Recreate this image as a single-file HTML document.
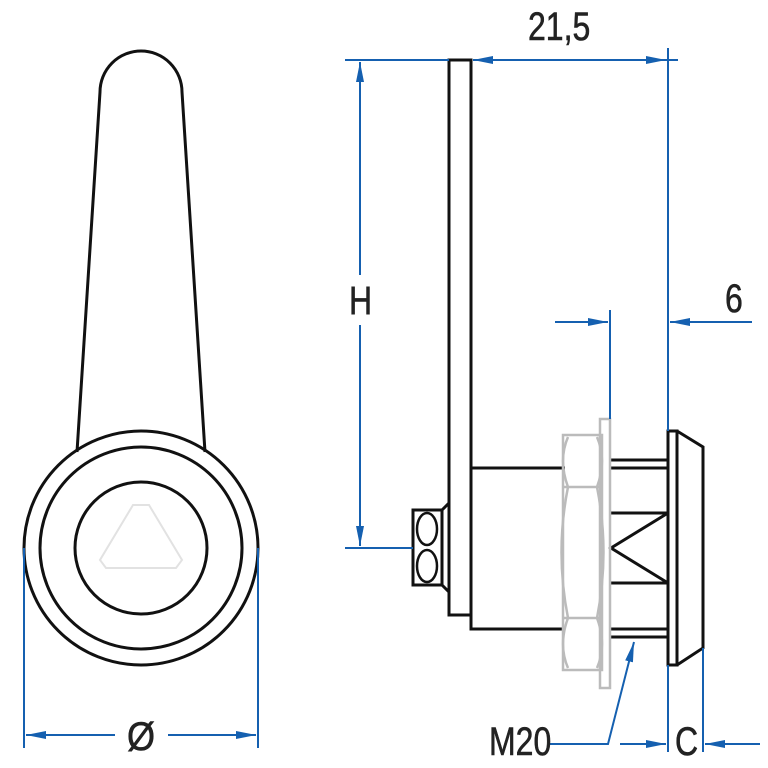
<!DOCTYPE html>
<html><head><meta charset="utf-8"><style>html,body{margin:0;padding:0;background:#fff}svg{display:block}</style></head>
<body>
<svg width="768" height="768" viewBox="0 0 768 768" xmlns="http://www.w3.org/2000/svg">
<defs>
<marker id="a" viewBox="0 0 20 10" refX="20" refY="5" markerWidth="20" markerHeight="10" markerUnits="userSpaceOnUse" orient="auto-start-reverse"><path d="M0,1 L20,5 L0,9 Z" fill="#1560b0"/></marker>
</defs>
<g fill="none" stroke="#111" stroke-width="3">
<path d="M77,452 L100,92 A41,41 0 0 1 182,92 L205,452"/>
<circle cx="141" cy="548" r="117"/>
<circle cx="141" cy="548" r="101"/>
<circle cx="141" cy="548" r="66"/>
</g>
<path d="M133,505 L149,505 L182,560 L176,568 L106,568 L100,560 Z" fill="none" stroke="#e2e2e2" stroke-width="2"/>
<g fill="none" stroke="#111" stroke-width="3">
<rect x="449" y="60" width="22" height="555"/>
<path d="M471,468 L565,468 M471,615 L471,629 L565,629"/>
<rect x="413" y="510" width="29" height="75"/>
<ellipse cx="427" cy="529" rx="10" ry="16" stroke-width="2.5"/>
<ellipse cx="427" cy="566" rx="10" ry="16" stroke-width="2.5"/>
<path d="M442,510 L449,503 M442,585 L449,592"/>
<path d="M610,460 L668,460 M610,468 L668,468 M610,629 L668,629 M610,637 L668,637 M610,513 L668,513 M610,583 L668,583 M668,513 L611,548 L668,583"/>
<rect x="668" y="431" width="9" height="234"/>
<path d="M677,431 L703,447 L703,648 L677,665"/>
</g>
<g fill="none" stroke="#bbb" stroke-width="2.5">
<rect x="563" y="435" width="39" height="235"/>
<rect x="600" y="419" width="10" height="269"/>
<path d="M563,487 L602,487 M563,618 L602,618 M568,437 Q558,460 568,487 M597,437 Q607,460 597,487 M568,618 Q558,645 568,668 M597,618 Q607,645 597,668 M568,487 Q555,552 568,618 M597,487 Q610,552 597,618"/>
</g>
<g fill="none" stroke="#1560b0" stroke-width="2">
<path d="M345,60 L449,60"/>
<path d="M345,548 L413,548"/>
<path d="M360,275 L360,62" marker-end="url(#a)"/>
<path d="M360,325 L360,546" marker-end="url(#a)"/>
<path d="M473,60 L666,60" marker-start="url(#a)" marker-end="url(#a)"/>
<path d="M666,60 L678,60"/>
<path d="M668,48 L668,431 M668,665 L668,752"/>
<path d="M610,310 L610,419"/>
<path d="M555,322 L608,322" marker-end="url(#a)"/>
<path d="M752,322 L670,322" marker-end="url(#a)"/>
<path d="M703,648 L703,752"/>
<path d="M620,744 L666,744" marker-end="url(#a)"/>
<path d="M760,744 L705,744" marker-end="url(#a)"/>
<path d="M548,744 L608,744 L634,642" marker-end="url(#a)"/>
<path d="M24,548 L24,748 M258,548 L258,748"/>
<path d="M26,735 L115,735" marker-start="url(#a)"/>
<path d="M168,735 L256,735" marker-end="url(#a)"/>
</g>
<g font-family="Liberation Sans, sans-serif" fill="#222" font-size="40" stroke="#222" stroke-width="0.6">
<text x="0" y="0" transform="translate(528,40) scale(0.8,1)">21,5</text>
<text x="0" y="0" transform="translate(349,314) scale(0.8,1)">H</text>
<text x="0" y="0" transform="translate(725,312) scale(0.8,1)">6</text>
<text x="0" y="0" transform="translate(489,755) scale(0.8,1)">M20</text>
<text x="0" y="0" transform="translate(675,755) scale(0.8,1)">C</text>
<text x="0" y="0" transform="translate(127,750) scale(0.9,1)">Ø</text>
</g>
</svg>
</body></html>
